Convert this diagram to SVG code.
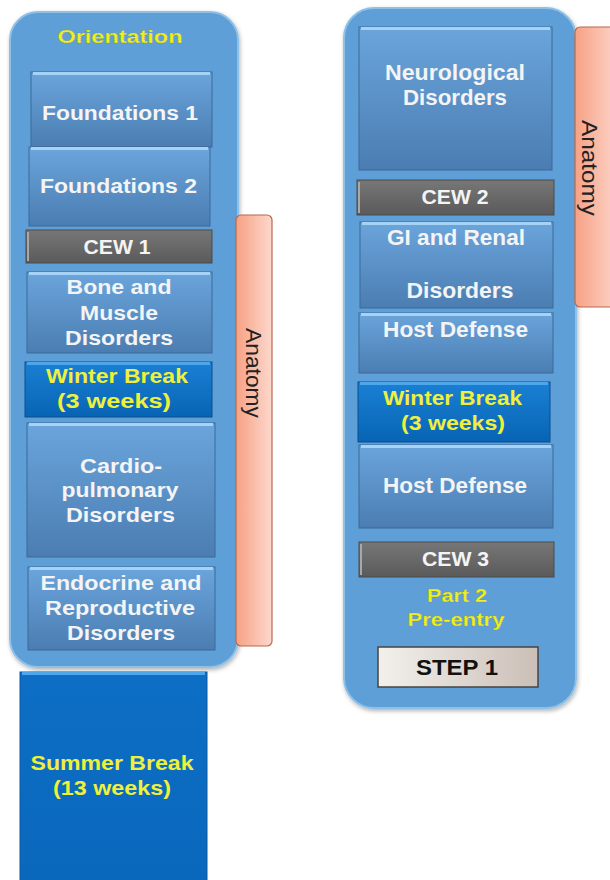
<svg xmlns="http://www.w3.org/2000/svg" width="610" height="880" viewBox="0 0 610 880">
<defs>
<linearGradient id="gBox" x1="0" y1="0" x2="0" y2="1">
<stop offset="0" stop-color="#6aa5dc"/><stop offset="1" stop-color="#4b7db2"/>
</linearGradient>
<linearGradient id="gCew" x1="0" y1="0" x2="0" y2="1">
<stop offset="0" stop-color="#777"/><stop offset="1" stop-color="#5a5a5a"/>
</linearGradient>
<linearGradient id="gWin" x1="0" y1="0" x2="0" y2="1">
<stop offset="0" stop-color="#1a80d4"/><stop offset="1" stop-color="#0864b4"/>
</linearGradient>
<linearGradient id="gSum" x1="0" y1="0" x2="0" y2="1">
<stop offset="0" stop-color="#0c6ec4"/><stop offset="1" stop-color="#0a68bc"/>
</linearGradient>
<linearGradient id="gAna" x1="0" y1="0" x2="1" y2="0">
<stop offset="0" stop-color="#f7a185"/><stop offset="1" stop-color="#fdd8cc"/>
</linearGradient>
<linearGradient id="gStep" x1="0" y1="0" x2="1" y2="0">
<stop offset="0" stop-color="#f3f0ec"/><stop offset="1" stop-color="#cbbfb7"/>
</linearGradient>
<filter id="sh" x="-10%" y="-10%" width="120%" height="120%">
<feDropShadow dx="1" dy="2" stdDeviation="2" flood-color="#000" flood-opacity="0.3"/>
</filter>
</defs>
<style>
.cont{fill:#5e9fd7;stroke:#8ec0e8;stroke-width:2}
.box{fill:url(#gBox);stroke:#3c6a98;stroke-width:1}
.cew{fill:url(#gCew);stroke:#4a4a4a;stroke-width:1}
.win{fill:url(#gWin);stroke:#0a4f8c;stroke-width:1}
.sum{fill:url(#gSum);stroke:#0a5aa0;stroke-width:1}
.ana{fill:url(#gAna);stroke:#b8694a;stroke-width:1.2}
.step{fill:url(#gStep);stroke:#444;stroke-width:1.5}
.hl{stroke:#a6d3f5;stroke-width:3;fill:none}
.hlc{stroke:#a8a8a8;stroke-width:2;fill:none}
.hlw{stroke:#4da6ec;stroke-width:3;fill:none}
text{font-family:"Liberation Sans",Arial,sans-serif;font-weight:bold;text-anchor:middle}
.w{fill:#f4f4f4;font-size:20px}
.w2{fill:#f4f4f4;font-size:22px}
.y{fill:#f0f03a;font-size:20px}
.y2{fill:#f0f03a;font-size:21px}
.yo{fill:#eef020;font-size:18px;stroke:#8a8a40;stroke-width:0.4;stroke-dasharray:1 1}
.k{fill:#111;font-size:22px}
.a{fill:#222;font-weight:normal;font-size:22px;text-anchor:middle}
</style>

<g id="left-column">
<rect class="cont" x="10" y="12" width="228" height="655" rx="28" filter="url(#sh)"/>
<text class="yo" x="120" y="43" textLength="125" lengthAdjust="spacingAndGlyphs">Orientation</text>
</g>
<g id="anatomy-left">
<rect class="ana" x="236" y="215" width="36" height="431" rx="5"/>
<text class="a" transform="translate(246,373) rotate(90)" textLength="90" lengthAdjust="spacingAndGlyphs">Anatomy</text>
</g>
<g id="foundations1">
<rect class="box" x="31" y="72" width="181" height="75"/>
<path class="hl" d="M33 73.5H210"/>
<text class="w" x="120" y="120" textLength="156" lengthAdjust="spacingAndGlyphs">Foundations 1</text>
</g>
<g id="foundations2">
<rect class="box" x="29" y="147" width="181" height="79"/>
<path class="hl" d="M31 148.5H208"/>
<text class="w" x="118.5" y="193" textLength="157" lengthAdjust="spacingAndGlyphs">Foundations 2</text>
</g>
<g id="cew1">
<rect class="cew" x="26" y="230" width="186" height="33"/>
<path class="hlc" d="M28 232V261"/>
<text class="w" x="117" y="254" textLength="67" lengthAdjust="spacingAndGlyphs">CEW 1</text>
</g>
<g id="bone-muscle">
<rect class="box" x="27" y="272" width="185" height="81"/>
<path class="hl" d="M29 273.5H210"/>
<text class="w" x="119" y="294" textLength="105" lengthAdjust="spacingAndGlyphs">Bone and</text>
<text class="w" x="119" y="320" textLength="78" lengthAdjust="spacingAndGlyphs">Muscle</text>
<text class="w" x="119" y="345" textLength="108" lengthAdjust="spacingAndGlyphs">Disorders</text>
</g>
<g id="winter-break-1">
<rect class="win" x="25" y="362" width="187" height="55"/>
<path class="hlw" d="M27 363.5H210"/>
<text class="y" x="117" y="383" textLength="142" lengthAdjust="spacingAndGlyphs">Winter Break</text>
<text class="y" x="114" y="408" textLength="114" lengthAdjust="spacingAndGlyphs">(3 weeks)</text>
</g>
<g id="cardiopulmonary">
<rect class="box" x="27" y="423" width="188" height="134"/>
<path class="hl" d="M29 424.5H213"/>
<text class="w" x="121" y="473" textLength="82" lengthAdjust="spacingAndGlyphs">Cardio-</text>
<text class="w" x="120" y="497" textLength="117" lengthAdjust="spacingAndGlyphs">pulmonary</text>
<text class="w" x="120.5" y="522" textLength="109" lengthAdjust="spacingAndGlyphs">Disorders</text>
</g>
<g id="endocrine">
<rect class="box" x="28" y="567" width="187" height="83"/>
<path class="hl" d="M30 568.5H213"/>
<text class="w" x="121" y="590" textLength="161" lengthAdjust="spacingAndGlyphs">Endocrine and</text>
<text class="w" x="120" y="615" textLength="150" lengthAdjust="spacingAndGlyphs">Reproductive</text>
<text class="w" x="121" y="640" textLength="108" lengthAdjust="spacingAndGlyphs">Disorders</text>
</g>
<g id="summer-break">
<rect class="sum" x="20" y="672" width="187" height="212"/>
<path class="hlw" d="M22 673.5H205"/>
<text class="y2" x="112" y="770" textLength="163" lengthAdjust="spacingAndGlyphs">Summer Break</text>
<text class="y2" x="112" y="795" textLength="118" lengthAdjust="spacingAndGlyphs">(13 weeks)</text>
</g>

<g id="right-column">
<rect class="cont" x="344" y="8" width="232" height="700" rx="30" filter="url(#sh)"/>
</g>
<g id="anatomy-right">
<rect class="ana" x="575" y="27" width="45" height="280" rx="5"/>
<text class="a" transform="translate(582,168) rotate(90)" textLength="96" lengthAdjust="spacingAndGlyphs">Anatomy</text>
</g>
<g id="neurological">
<rect class="box" x="359" y="27" width="193" height="143"/>
<path class="hl" d="M361 28.5H550"/>
<text class="w2" x="455" y="80" textLength="140" lengthAdjust="spacingAndGlyphs">Neurological</text>
<text class="w2" x="455" y="105" textLength="104" lengthAdjust="spacingAndGlyphs">Disorders</text>
</g>
<g id="cew2">
<rect class="cew" x="357" y="180" width="197" height="35"/>
<path class="hlc" d="M359 182V213"/>
<text class="w" x="455" y="204" textLength="67" lengthAdjust="spacingAndGlyphs">CEW 2</text>
</g>
<g id="gi-renal">
<rect class="box" x="360" y="222" width="193" height="86"/>
<path class="hl" d="M362 223.5H551"/>
<text class="w2" x="456" y="245" textLength="138" lengthAdjust="spacingAndGlyphs">GI and Renal</text>
<text class="w2" x="460" y="298" textLength="107" lengthAdjust="spacingAndGlyphs">Disorders</text>
</g>
<g id="host-defense-1">
<rect class="box" x="359" y="313" width="194" height="60"/>
<path class="hl" d="M361 314.5H551"/>
<text class="w2" x="455.5" y="337" textLength="145" lengthAdjust="spacingAndGlyphs">Host Defense</text>
</g>
<g id="winter-break-2">
<rect class="win" x="358" y="382" width="192" height="60"/>
<path class="hlw" d="M360 383.5H548"/>
<text class="y2" x="452.5" y="405" textLength="139" lengthAdjust="spacingAndGlyphs">Winter Break</text>
<text class="y2" x="453" y="430" textLength="104" lengthAdjust="spacingAndGlyphs">(3 weeks)</text>
</g>
<g id="host-defense-2">
<rect class="box" x="359" y="445" width="194" height="83"/>
<path class="hl" d="M361 446.5H551"/>
<text class="w2" x="455" y="493" textLength="144" lengthAdjust="spacingAndGlyphs">Host Defense</text>
</g>
<g id="cew3">
<rect class="cew" x="359" y="542" width="195" height="35"/>
<path class="hlc" d="M361 544V575"/>
<text class="w" x="455.5" y="566" textLength="67" lengthAdjust="spacingAndGlyphs">CEW 3</text>
</g>
<g id="part2-preentry">
<text class="yo" x="457" y="602" textLength="60" lengthAdjust="spacingAndGlyphs">Part 2</text>
<text class="yo" x="456" y="626" textLength="97" lengthAdjust="spacingAndGlyphs">Pre-entry</text>
</g>
<g id="step1">
<rect class="step" x="378" y="647" width="160" height="40"/>
<text class="k" x="457" y="675" textLength="82" lengthAdjust="spacingAndGlyphs">STEP 1</text>
</g>
<g id="connectors"></g>
</svg>
